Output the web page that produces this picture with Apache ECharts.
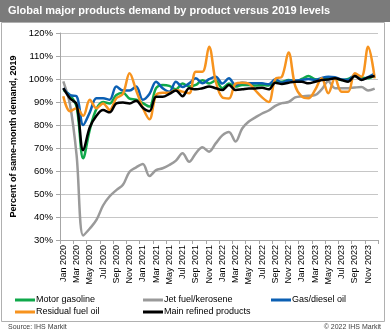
<!DOCTYPE html>
<html>
<head>
<meta charset="utf-8">
<script src="https://cdn.jsdelivr.net/npm/echarts@6/dist/echarts.min.js"></script>
<style>
  html, body { margin: 0; padding: 0; background: #fff; }
  #chart { width: 390px; height: 334px; }
</style>
</head>
<body>
<div id="chart"></div>
<script>
// Monthly categories, Jan 2020 - Dec 2023
const months = [
  'Jan 2020','Feb 2020','Mar 2020','Apr 2020','May 2020','Jun 2020','Jul 2020','Aug 2020','Sep 2020','Oct 2020','Nov 2020','Dec 2020',
  'Jan 2021','Feb 2021','Mar 2021','Apr 2021','May 2021','Jun 2021','Jul 2021','Aug 2021','Sep 2021','Oct 2021','Nov 2021','Dec 2021',
  'Jan 2022','Feb 2022','Mar 2022','Apr 2022','May 2022','Jun 2022','Jul 2022','Aug 2022','Sep 2022','Oct 2022','Nov 2022','Dec 2022',
  'Jan 2023','Feb 2023','Mar 2023','Apr 2023','May 2023','Jun 2023','Jul 2023','Aug 2023','Sep 2023','Oct 2023','Nov 2023','Dec 2023'
];

// Demand as percent of the same month in 2019
const motorGasoline = [95.2, 93, 88, 65.5, 78, 87, 90, 89.4, 93, 94, 91.5, 91,
  89.5, 88, 96, 97.4, 97, 95.5, 98, 96.7, 97.4, 99.5, 98, 99.3,
  96, 98, 96.7, 97.4, 97.4, 97.2, 97.4, 97.2, 98.8, 98.8, 99.6, 98.8,
  100, 101.3, 99.9, 99.8, 100.7, 100.3, 99.6, 100, 101.3, 100.5, 100.3, 101.5];
const jetFuel = [99, 89, 67, 32, 35, 38.7, 45, 49, 51.7, 54, 59.7, 61.6,
  63, 57.8, 60.4, 61.2, 62.6, 64.5, 67.7, 64, 67.7, 70.3, 68.4, 72,
  75.5, 77, 72.8, 78.5, 81.5, 83.3, 85, 86.3, 88.3, 89.5, 90, 92,
  92.5, 92.7, 93, 95.5, 99, 96, 96, 96, 96.3, 96.5, 95, 95.8];
const gasDiesel = [96, 93, 92.5, 80, 85.5, 91.6, 91.6, 91, 96.7, 95, 95, 96.7,
  91, 93.5, 98.8, 96, 94.5, 98.8, 96.5, 98.1, 100.3, 98.1, 99.9, 101,
  98, 100.3, 97.4, 98.4, 98.1, 98.1, 98.1, 97.7, 99.9, 98.4, 99.3, 99.3,
  99.6, 100, 99.6, 100.5, 101, 100.8, 99.8, 99.6, 101.7, 99.8, 100.8, 102.3];
const residualFuel = [92.5, 86, 87.3, 84, 91, 87.3, 89.4, 86.5, 91.6, 93.5, 102.5, 95,
  87.5, 82.5, 93, 94, 94, 95.2, 94.5, 93.8, 103.2, 103.2, 114, 99,
  92, 91.5, 98, 98.4, 98, 95, 92, 90, 100, 101, 111.5, 97,
  92.3, 91.6, 95.2, 100.3, 93.8, 100.3, 94.5, 94.5, 102.5, 101, 114, 100.3];
const mainRefined = [96, 91.6, 89, 69, 79, 84, 86.5, 85.5, 89.4, 89.8, 89.4, 90.5,
  87.5, 86, 92.3, 92.3, 93.5, 95, 92.5, 96, 95.5, 96, 96.7, 96,
  95.2, 97.4, 95.2, 95.5, 95.9, 95.9, 96.2, 95.5, 98.4, 97.8, 98.4, 98.8,
  98.8, 98.1, 98.8, 99.6, 99.8, 100.3, 99.6, 98.8, 101.3, 99.6, 100.7, 101.3];

const FONT = '"Liberation Sans", Arial, sans-serif';

const seriesDefs = [
  { name: 'Motor gasoline', data: motorGasoline, color: '#0fa84a' },
  { name: 'Jet fuel/kerosene', data: jetFuel, color: '#9a9a9a' },
  { name: 'Gas/diesel oil', data: gasDiesel, color: '#0b5fb3' },
  { name: 'Residual fuel oil', data: residualFuel, color: '#f7931e' },
  { name: 'Main refined products', data: mainRefined, color: '#000000' }
];

const legendBase = {
  orient: 'vertical',
  top: 294,
  itemGap: 0,
  itemWidth: 20,
  itemHeight: 3,
  icon: 'rect',
  selectedMode: false,
  padding: 0,
  textStyle: { fontFamily: FONT, fontSize: 9, color: '#000', lineHeight: 12, padding: [0, 0, 0, -4] }
};

const chart = echarts.init(document.getElementById('chart'), null, { renderer: 'canvas' });
chart.setOption({
  animation: false,
  backgroundColor: '#fff',
  title: {
    text: 'Global major products demand by product versus 2019 levels',
    left: 8,
    top: 5,
    padding: 0,
    textStyle: { color: '#fff', fontFamily: FONT, fontSize: 11, fontWeight: 'bold' }
  },
  graphic: [
    { type: 'rect', z: -10, shape: { x: 0, y: 0, width: 390, height: 22 }, style: { fill: '#7b7b7b' } },
    { type: 'rect', z: -10, shape: { x: 1.5, y: 22.5, width: 383, height: 299 }, style: { fill: 'none', stroke: '#b0b0b0', lineWidth: 1 } },
    { type: 'text', left: 8, top: 324, style: { text: 'Source: IHS Markit', font: '7px ' + FONT, fill: '#404040' } },
    { type: 'text', right: 9, top: 324, style: { text: '\u00a9 2022 IHS Markit', font: '7px ' + FONT, fill: '#404040' } }
  ],
  legend: [
    Object.assign({}, legendBase, { left: 15, data: ['Motor gasoline', 'Residual fuel oil'] }),
    Object.assign({}, legendBase, { left: 143, data: ['Jet fuel/kerosene', 'Main refined products'] }),
    Object.assign({}, legendBase, { left: 271, data: ['Gas/diesel oil'] })
  ],
  grid: { left: 60, right: 12, top: 33, bottom: 94 },
  xAxis: {
    type: 'category',
    data: months,
    boundaryGap: true,
    axisLine: { lineStyle: { color: '#a6a6a6', width: 1 } },
    axisTick: { show: true, interval: 1, length: 4, lineStyle: { color: '#a6a6a6' } },
    axisLabel: { interval: 1, rotate: 90, margin: 5, fontFamily: FONT, fontSize: 9, color: '#000' },
    splitLine: { show: false }
  },
  yAxis: {
    type: 'value',
    min: 30,
    max: 120,
    interval: 10,
    name: 'Percent of same-month demand, 2019',
    nameLocation: 'middle',
    nameGap: 42,
    nameTextStyle: { fontFamily: FONT, fontSize: 9, fontWeight: 'bold', color: '#000' },
    axisLine: { show: true, lineStyle: { color: '#a6a6a6', width: 1 } },
    axisTick: { show: true, length: 4, lineStyle: { color: '#a6a6a6' } },
    axisLabel: { formatter: '{value}%', margin: 7, fontFamily: FONT, fontSize: 9.5, color: '#000' },
    splitLine: { lineStyle: { color: '#c6c6c6', width: 1 } }
  },
  series: seriesDefs.map(s => ({
    name: s.name,
    type: 'line',
    data: s.data,
    smooth: 0.35,
    showSymbol: false,
    symbol: 'none',
    color: s.color,
    lineStyle: { color: s.color, width: 2.5 }
  }))
});
</script>
</body>
</html>
